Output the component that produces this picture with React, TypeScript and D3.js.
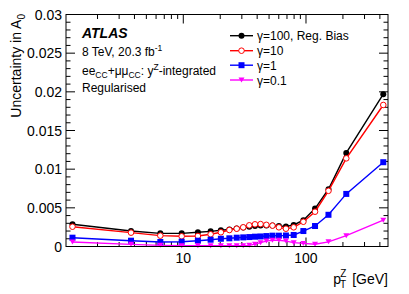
import * as d3 from "d3";
import React from "react";

// bin centres of the p_T^Z bins [GeV]
const ptCenters = [1.25, 3.75, 6.5, 9.7, 13.15, 16.7, 20.25, 23.75, 27.25, 30.8, 34.5, 38.4, 42.65, 47.55, 53.3, 60.15, 68.65, 79.4, 95.2, 118.5, 152.5, 213, 426.5];

const gamma100 = [0.00287, 0.002, 0.0017, 0.0017, 0.00184, 0.00196, 0.0021, 0.0022, 0.00232, 0.00245, 0.00256, 0.00265, 0.0027, 0.0027, 0.0027, 0.00265, 0.0026, 0.00278, 0.0034, 0.0049, 0.0074, 0.0121, 0.0197];
const gamma10 = [0.00256, 0.00179, 0.0014, 0.00132, 0.00136, 0.00158, 0.00184, 0.00213, 0.0023, 0.00248, 0.00274, 0.00287, 0.0029, 0.0028, 0.0027, 0.00248, 0.0023, 0.00248, 0.0032, 0.0045, 0.0072, 0.0114, 0.0183];
const gamma1 = [0.00114, 0.00075, 0.00058, 0.00062, 0.00075, 0.00088, 0.001, 0.00106, 0.00114, 0.00118, 0.00122, 0.00127, 0.0013, 0.00135, 0.0014, 0.0014, 0.00142, 0.00149, 0.002, 0.00265, 0.0041, 0.0068, 0.0109];
const gamma01 = [0.00058, 0.00028, 0.00015, 0.0001, 0.0001, 0.0001, 0.0001, 0.0001, 0.0001, 0.0001, 0.00015, 0.0003, 0.0005, 0.0007, 0.0008, 0.0008, 0.0007, 0.0005, 0.0004, 0.0003, 0.0006, 0.0014, 0.0034];

const yTicks = [0, 0.005, 0.01, 0.015, 0.02, 0.025, 0.03];
const yTickLabels = ["0", "0.005", "0.01", "0.015", "0.02", "0.025", "0.03"];
const xLabelTicks = [10, 100];

type Series = { label: string; values: number[]; color: string; marker: "dot" | "ring" | "square" | "tri" };
const series: Series[] = [
  { label: "γ=100, Reg. Bias", values: gamma100, color: "#000000", marker: "dot" },
  { label: "γ=10", values: gamma10, color: "#ff0000", marker: "ring" },
  { label: "γ=1", values: gamma1, color: "#0000ff", marker: "square" },
  { label: "γ=0.1", values: gamma01, color: "#ff00ff", marker: "tri" },
];

const W = 409;
const H = 294;
const m = { left: 66, right: 388, top: 14.5, bottom: 246.5 };
const font = "'Liberation Sans', Arial, Helvetica, sans-serif";

function Marker({ kind, cx, cy, color }: { kind: Series["marker"]; cx: number; cy: number; color: string }) {
  if (kind === "dot") return <circle cx={cx} cy={cy} r={3} fill={color} />;
  if (kind === "ring") return <circle cx={cx} cy={cy} r={2.8} fill="white" stroke={color} strokeWidth={1} />;
  if (kind === "square") return <rect x={cx - 3} y={cy - 3} width={6} height={6} fill={color} />;
  return <path d={`M${cx - 3},${cy - 2.5}L${cx + 3},${cy - 2.5}L${cx},${cy + 2.5}Z`} fill={color} />;
}

export default function App() {
  const x = d3.scaleLog().domain([1.107, 466]).range([m.left, m.right]);
  const y = d3.scaleLinear().domain([0, 0.03]).range([m.bottom, m.top]);

  const line = d3
    .line<number>()
    .x((_, i) => x(ptCenters[i]))
    .y((d) => y(d));

  const yMinor = d3.range(0, 0.0301, 0.001);
  const xMinor: number[] = [];
  for (const dec of [1, 10, 100]) for (let k = 1; k <= 9; k++) {
    const v = k * dec;
    if (v >= 1.107 && v <= 466 && v !== 10 && v !== 100) xMinor.push(v);
  }

  const legendX0 = 230;
  const legendRows = [35.7, 50.7, 65.2, 80];

  return (
    <svg width={W} height={H} style={{ position: "absolute", left: 0, top: 0, background: "white" }} fontFamily={font}>
      {/* ticks */}
      <g stroke="black" strokeWidth={1}>
        {yMinor.map((v, i) => {
          const major = Math.abs((v * 1000) % 5) < 1e-6 || Math.abs((v * 1000) % 5 - 5) < 1e-6;
          const len = major ? 9 : 4.5;
          return (
            <g key={i}>
              <line x1={m.left} x2={m.left + len} y1={y(v)} y2={y(v)} />
              <line x1={m.right} x2={m.right - len} y1={y(v)} y2={y(v)} />
            </g>
          );
        })}
        {xMinor.map((v, i) => (
          <g key={"xm" + i}>
            <line x1={x(v)} x2={x(v)} y1={m.bottom} y2={m.bottom - 4.5} />
            <line x1={x(v)} x2={x(v)} y1={m.top} y2={m.top + 4.5} />
          </g>
        ))}
        {xLabelTicks.map((v) => (
          <g key={"xM" + v}>
            <line x1={x(v)} x2={x(v)} y1={m.bottom} y2={m.bottom - 9} />
            <line x1={x(v)} x2={x(v)} y1={m.top} y2={m.top + 9} />
          </g>
        ))}
      </g>

      {/* series */}
      {series.map((s) => (
        <g key={s.label}>
          <path d={line(s.values) || ""} fill="none" stroke={s.color} strokeWidth={1.4} />
          {s.values.map((v, i) => (
            <Marker key={i} kind={s.marker} cx={x(ptCenters[i])} cy={y(v)} color={s.color} />
          ))}
        </g>
      ))}

      {/* frame */}
      <rect x={m.left} y={m.top} width={m.right - m.left} height={m.bottom - m.top} fill="none" stroke="black" strokeWidth={1} />

      {/* y tick labels */}
      <g fontSize={14} textAnchor="end">
        {yTicks.map((v, i) => (
          <text key={v} x={m.left - 4} y={y(v) + 5}>
            {yTickLabels[i]}
          </text>
        ))}
      </g>
      {/* x tick labels */}
      <g fontSize={14} textAnchor="middle">
        {xLabelTicks.map((v) => (
          <text key={v} x={x(v)} y={263}>
            {v}
          </text>
        ))}
      </g>

      {/* axis titles */}
      <text transform="translate(21,14) rotate(-90)" textAnchor="end" fontSize={14}>
        Uncertainty in A<tspan fontSize={10} dy={4}>0</tspan>
      </text>
      <text x={m.right} y={284} textAnchor="end" fontSize={14}>
        p<tspan fontSize={10} dy={4} dx={-1}>T</tspan>
        <tspan fontSize={10} dy={-11} dx={-6}>Z</tspan>
        <tspan dy={7} dx={2}> [GeV]</tspan>
      </text>

      {/* labels */}
      <text x={82} y={38} fontSize={14} fontWeight="bold" fontStyle="italic">ATLAS</text>
      <text x={82} y={56} fontSize={12}>
        8 TeV, 20.3 fb<tspan fontSize={8.5} dy={-5}>-1</tspan>
      </text>
      <text x={82} y={75} fontSize={12}>
        ee<tspan fontSize={8.5} dy={3}>CC</tspan>
        <tspan dy={-3}>+μμ</tspan>
        <tspan fontSize={8.5} dy={3}>CC</tspan>
        <tspan dy={-3}>: y</tspan>
        <tspan fontSize={8.5} dy={-5}>Z</tspan>
        <tspan dy={5}>-integrated</tspan>
      </text>
      <text x={82} y={92} fontSize={12}>Regularised</text>

      {/* legend */}
      {series.map((s, i) => (
        <g key={"lg" + s.label}>
          <line x1={legendX0} x2={legendX0 + 23} y1={legendRows[i]} y2={legendRows[i]} stroke={s.color} strokeWidth={1.4} />
          <Marker kind={s.marker} cx={legendX0 + 11.5} cy={legendRows[i]} color={s.color} />
          <text x={legendX0 + 27} y={legendRows[i] + 4.5} fontSize={12}>
            {s.label}
          </text>
        </g>
      ))}
    </svg>
  );
}
